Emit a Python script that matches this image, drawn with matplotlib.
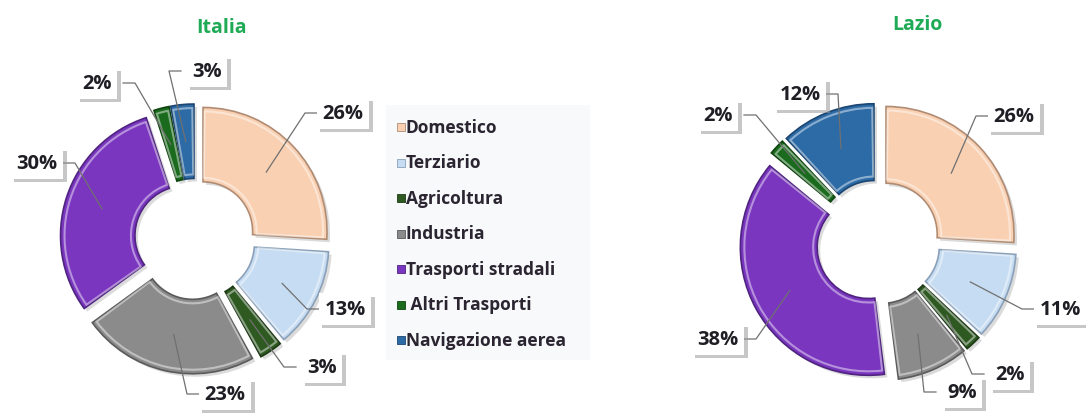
import matplotlib
matplotlib.use("Agg")
import matplotlib.pyplot as plt
import matplotlib.patheffects as pe
from matplotlib.patches import Wedge, Rectangle
import numpy as np

# ---------------- data ----------------
categories = ["Domestico", "Terziario", "Agricoltura", "Industria",
              "Trasporti stradali", "Altri Trasporti", "Navigazione aerea"]
legend_labels = ["Domestico", "Terziario", "Agricoltura", "Industria",
                 "Trasporti stradali", " Altri Trasporti", "Navigazione aerea"]
italia_values = [26, 13, 3, 23, 30, 2, 3]
lazio_values = [26, 11, 2, 9, 38, 2, 12]
titles = ["Italia", "Lazio"]

# ---------------- style / layout ----------------
colors = ["#f9d0b2", "#c6dcf2", "#2e5a22", "#8b8b8b", "#7a36bf", "#1b6b1e", "#2d6ba6"]
edge_colors = ["#b08c74", "#8aa0b8", "#1d3a15", "#5a5a5a", "#4f2380", "#0f450f", "#1c4570"]
title_color = "#1faa55"
text_color = "#1e1e24"

W, H = 1086, 414
fig = plt.figure(figsize=(W / 100, H / 100), dpi=100)
fig.patch.set_facecolor("white")
plt.rcParams["font.family"] = ["Open Sans", "DejaVu Sans"]

# label anchor offsets (px from donut centre, y up) -- layout only
italia_label_pos = [(148, 126), (150, -70), (127, -128), (30, -155),
                    (-158, 76), (-98, 156), (12, 168)]
lazio_label_pos = [(136, 126), (182, -67), (132, -132), (84, -150),
                   (-160, -97), (-160, 127), (-78, 148)]

charts = [
    dict(values=italia_values, center=(195, 240), R=124, title_xy=(222, 28),
         labels=italia_label_pos),
    dict(values=lazio_values, center=(878, 243), R=128, title_xy=(917, 25),
         labels=lazio_label_pos),
]

ring_frac = 0.60
explode = 11
half = 160

for ch, title in zip(charts, titles):
    cx, cy = ch["center"]
    ax = fig.add_axes([(cx - half) / W, (H - cy - half) / H, 2 * half / W, 2 * half / H])
    ax.set_xlim(-half, half)
    ax.set_ylim(-half, half)
    ax.set_aspect("equal")
    ax.axis("off")
    vals = np.array(ch["values"], dtype=float)
    frac = vals / vals.sum()
    R = ch["R"]
    r_in = R * (1 - ring_frac)
    start = 90.0
    for i, f in enumerate(frac):
        th2 = start
        th1 = start - f * 360
        mid = np.deg2rad((th1 + th2) / 2)
        ox, oy = explode * np.cos(mid), explode * np.sin(mid)
        shadow = Wedge((ox + 3, oy - 3), R, th1, th2, width=R - r_in,
                       facecolor="#b0b0b0", edgecolor="none", alpha=0.45, zorder=1)
        ax.add_patch(shadow)
        w = Wedge((ox, oy), R, th1, th2, width=R - r_in, facecolor=colors[i],
                  edgecolor=edge_colors[i], linewidth=1.2, zorder=2)
        ax.add_patch(w)
        hl = Wedge((ox, oy), R - 4, th1 + 0.8, th2 - 0.8, width=(R - r_in) - 8,
                   facecolor="none", edgecolor="white", linewidth=1.5, alpha=0.45, zorder=3)
        ax.add_patch(hl)

        lx, ly = ch["labels"][i]
        rm = (R + r_in) / 2
        px, py = ox + rm * np.cos(mid), oy + rm * np.sin(mid)
        txt = ax.text(lx, ly, f"{vals[i]:.0f}%", ha="center", va="center",
                      fontsize=14.5, fontweight="bold", color=text_color, zorder=6,
                      clip_on=False,
                      bbox=dict(boxstyle="square,pad=0.28", facecolor="white",
                                edgecolor="none"))
        txt.get_bbox_patch().set_path_effects(
            [pe.SimplePatchShadow(offset=(2.5, -2.5), shadow_rgbFace="#999999", alpha=0.55),
             pe.Normal()])
        hw = 26
        sgn = 1 if lx > px else -1
        ex = lx - sgn * hw
        elx = ex - sgn * 12
        if abs(ly - py) > 5:
            ax.plot([px, elx, ex], [py, ly, ly], color="#707070", lw=0.9,
                    zorder=4, clip_on=False)
        else:
            ax.plot([px, ex], [py, ly], color="#707070", lw=0.9, zorder=4, clip_on=False)
        start = th1

    fig.text(ch["title_xy"][0] / W, 1 - ch["title_xy"][1] / H, title,
             ha="center", va="center", fontsize=14, fontweight="bold", color=title_color)

# ---------------- legend ----------------
lx0, ly0, lw, lh = 386, 106, 204, 255
lax = fig.add_axes([lx0 / W, (H - ly0 - lh) / H, lw / W, lh / H])
lax.set_xlim(0, lw)
lax.set_ylim(lh, 0)
lax.axis("off")
lax.add_patch(Rectangle((0, 0), lw, lh, facecolor="#f8f9fb", edgecolor="none", zorder=0))
for i, lab in enumerate(legend_labels):
    y = 22 + i * 35.5
    lax.add_patch(Rectangle((11, y - 4), 8, 8, facecolor=colors[i],
                            edgecolor=edge_colors[i], linewidth=0.6, zorder=2))
    lax.text(19.5, y, lab, ha="left", va="center", fontsize=12.5, fontweight="bold",
             color="#2a2530", zorder=3)

fig.savefig("out.png", dpi=100, facecolor="white")
